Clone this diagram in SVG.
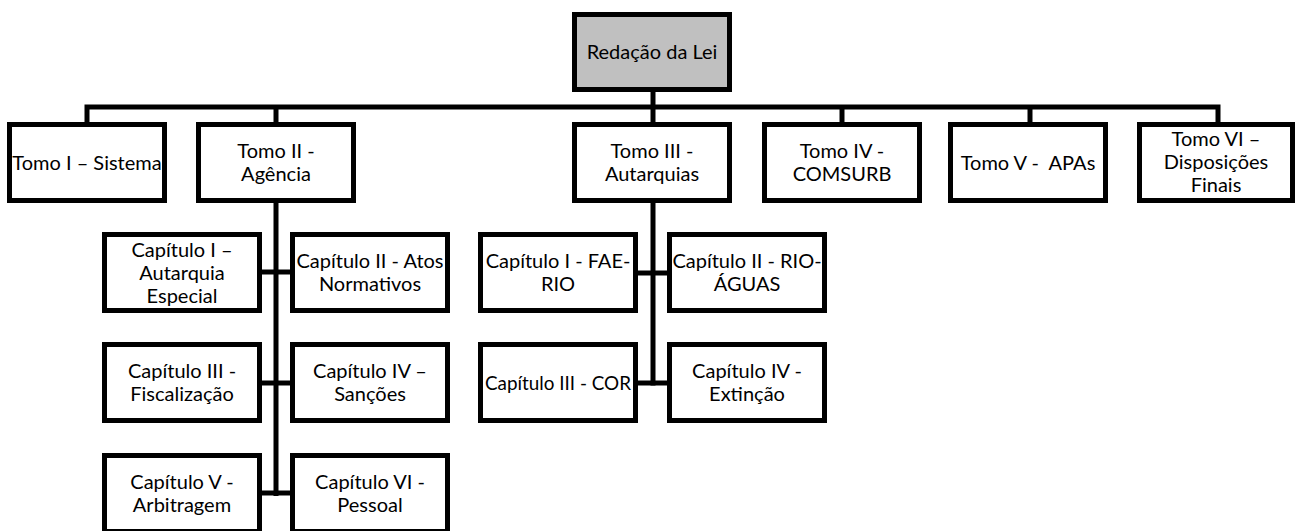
<svg xmlns="http://www.w3.org/2000/svg" width="1297" height="531" viewBox="0 0 1297 531">
  <style>
    .box { fill: #ffffff; stroke: #000000; stroke-width: 5; }
    .root { fill: #c0c0c0; stroke: #000000; stroke-width: 5; }
    .wire { fill: none; stroke: #000000; stroke-width: 5; stroke-linejoin: miter; stroke-linecap: butt; }
    text { font-family: Lato, "Open Sans", "Liberation Sans", sans-serif; font-size: 20px; fill: #000000; text-anchor: middle; }
  </style>
  <rect width="1297" height="531" fill="#ffffff"/>

  <!-- connectors -->
  <g id="connectors">
    <path class="wire" d="M653 90 V107"/>
    <path class="wire" d="M87 124 V107 H1218 V124"/>
    <path class="wire" d="M276 107 V124"/>
    <path class="wire" d="M653 107 V124"/>
    <path class="wire" d="M842 107 V124"/>
    <path class="wire" d="M1030 107 V124"/>
    <!-- Tomo II trunk -->
    <path class="wire" d="M276 201 V496"/>
    <path class="wire" d="M260 272 H292"/>
    <path class="wire" d="M260 383 H292"/>
    <path class="wire" d="M260 493 H292"/>
    <!-- Tomo III trunk -->
    <path class="wire" d="M653 201 V385.5"/>
    <path class="wire" d="M636 273 H669"/>
    <path class="wire" d="M636 383 H669"/>
  </g>

  <g id="root">
    <rect class="root" x="574.5" y="14.5" width="155" height="75"/>
    <text x="652" y="59">Redação da Lei</text>
  </g>

  <g id="tomo1">
    <rect class="box" x="9.5" y="124.5" width="155" height="76"/>
    <text x="87" y="170">Tomo I – Sistema</text>
  </g>
  <g id="tomo2">
    <rect class="box" x="198.5" y="124.5" width="155" height="76"/>
    <text x="276" y="158">Tomo II -</text>
    <text x="276" y="181">Agência</text>
  </g>
  <g id="tomo3">
    <rect class="box" x="574.5" y="124.5" width="155" height="76"/>
    <text x="652" y="158">Tomo III -</text>
    <text x="652" y="181">Autarquias</text>
  </g>
  <g id="tomo4">
    <rect class="box" x="764.5" y="124.5" width="155" height="76"/>
    <text x="842" y="158">Tomo IV -</text>
    <text x="842" y="181">COMSURB</text>
  </g>
  <g id="tomo5">
    <rect class="box" x="950.5" y="124.5" width="155" height="76"/>
    <text x="1028" y="170" xml:space="preserve">Tomo V -  APAs</text>
  </g>
  <g id="tomo6">
    <rect class="box" x="1139.5" y="124.5" width="153" height="76"/>
    <text x="1216" y="146">Tomo VI –</text>
    <text x="1216" y="169">Disposições</text>
    <text x="1216" y="192">Finais</text>
  </g>

  <g id="t2-cap1">
    <rect class="box" x="104.5" y="234.5" width="155" height="76"/>
    <text x="182" y="257">Capítulo I –</text>
    <text x="182" y="280">Autarquia</text>
    <text x="182" y="303">Especial</text>
  </g>
  <g id="t2-cap2">
    <rect class="box" x="292.5" y="234.5" width="155" height="76"/>
    <text x="370" y="268">Capítulo II - Atos</text>
    <text x="370" y="291">Normativos</text>
  </g>
  <g id="t2-cap3">
    <rect class="box" x="104.5" y="344.5" width="155" height="76"/>
    <text x="182" y="378">Capítulo III -</text>
    <text x="182" y="401">Fiscalização</text>
  </g>
  <g id="t2-cap4">
    <rect class="box" x="292.5" y="344.5" width="155" height="76"/>
    <text x="370" y="378">Capítulo IV –</text>
    <text x="370" y="401">Sanções</text>
  </g>
  <g id="t2-cap5">
    <rect class="box" x="104.5" y="455.5" width="155" height="76"/>
    <text x="182" y="489">Capítulo V -</text>
    <text x="182" y="512">Arbitragem</text>
  </g>
  <g id="t2-cap6">
    <rect class="box" x="292.5" y="455.5" width="155" height="76"/>
    <text x="370" y="489">Capítulo VI -</text>
    <text x="370" y="512">Pessoal</text>
  </g>

  <g id="t3-cap1">
    <rect class="box" x="480.5" y="234.5" width="155" height="76"/>
    <text x="558" y="268">Capítulo I - FAE-</text>
    <text x="558" y="291">RIO</text>
  </g>
  <g id="t3-cap2">
    <rect class="box" x="669.5" y="234.5" width="155" height="76"/>
    <text x="747" y="268">Capítulo II - RIO-</text>
    <text x="747" y="291">ÁGUAS</text>
  </g>
  <g id="t3-cap3">
    <rect class="box" x="480.5" y="344.5" width="155" height="76"/>
    <text x="558" y="390" textLength="146" lengthAdjust="spacingAndGlyphs">Capítulo III - COR</text>
  </g>
  <g id="t3-cap4">
    <rect class="box" x="669.5" y="344.5" width="155" height="76"/>
    <text x="747" y="378">Capítulo IV -</text>
    <text x="747" y="401">Extinção</text>
  </g>
</svg>
